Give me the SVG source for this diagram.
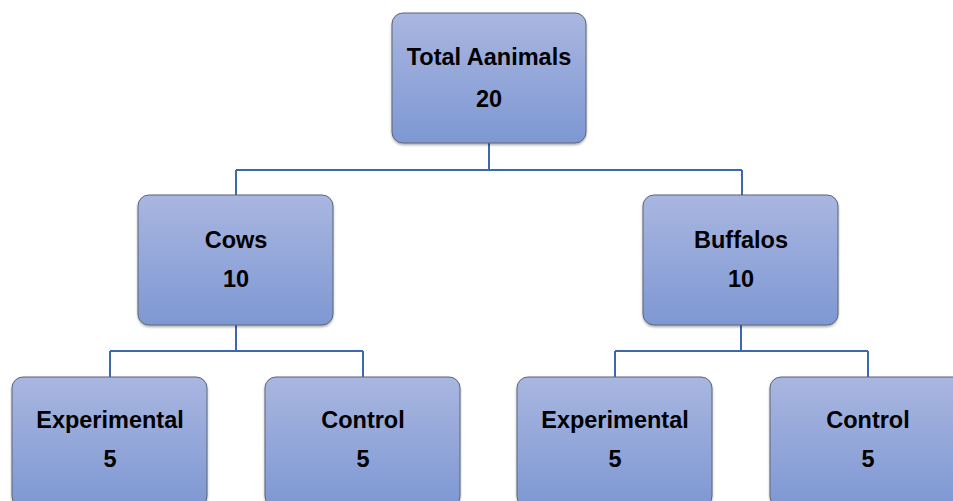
<svg xmlns="http://www.w3.org/2000/svg" width="953" height="501" viewBox="0 0 953 501">
<defs>
<linearGradient id="g" x1="0" y1="0" x2="0" y2="1">
<stop offset="0" stop-color="#A9B6E0"/>
<stop offset="1" stop-color="#7E98D3"/>
</linearGradient>
<filter id="sh" x="-5%" y="-5%" width="110%" height="115%">
<feDropShadow dx="0" dy="1.5" stdDeviation="1" flood-color="#000" flood-opacity="0.35"/>
</filter>
</defs>
<style>
.box{fill:url(#g);stroke:#5B6677;stroke-width:1;filter:url(#sh)}
.t{font-family:"Liberation Sans",Arial,sans-serif;font-weight:bold;font-size:23.5px;fill:#000;text-anchor:middle}
.c{fill:none;stroke:#3D68B0;stroke-width:2}
</style>
<rect width="953" height="501" fill="#fff"/>
<g id="connectors">
<path class="c" d="M489 143V170M236 170H742M236 170V195M742 170V195"/>
<path class="c" d="M236 325V351M110 351H363M110 351V377M363 351V377"/>
<path class="c" d="M741 325V351M615 351H868M615 351V377M868 351V377"/>
</g>
<g id="total">
<rect class="box" x="392" y="13" width="194" height="130" rx="11"/>
<text class="t" x="489" y="65">Total Aanimals</text>
<text class="t" x="489" y="107">20</text>
</g>
<g id="cows">
<rect class="box" x="138" y="195" width="195" height="130" rx="11"/>
<text class="t" x="236" y="248">Cows</text>
<text class="t" x="236" y="287">10</text>
</g>
<g id="buffalos">
<rect class="box" x="643" y="195" width="195" height="130" rx="11"/>
<text class="t" x="741" y="248">Buffalos</text>
<text class="t" x="741" y="287">10</text>
</g>
<g id="cows-experimental">
<rect class="box" x="12" y="377" width="195" height="130" rx="11"/>
<text class="t" x="110" y="428">Experimental</text>
<text class="t" x="110" y="467">5</text>
</g>
<g id="cows-control">
<rect class="box" x="265" y="377" width="195" height="130" rx="11"/>
<text class="t" x="363" y="428">Control</text>
<text class="t" x="363" y="467">5</text>
</g>
<g id="buffalos-experimental">
<rect class="box" x="517" y="377" width="195" height="130" rx="11"/>
<text class="t" x="615" y="428">Experimental</text>
<text class="t" x="615" y="467">5</text>
</g>
<g id="buffalos-control">
<rect class="box" x="770" y="377" width="195" height="130" rx="11"/>
<text class="t" x="868" y="428">Control</text>
<text class="t" x="868" y="467">5</text>
</g>
</svg>
